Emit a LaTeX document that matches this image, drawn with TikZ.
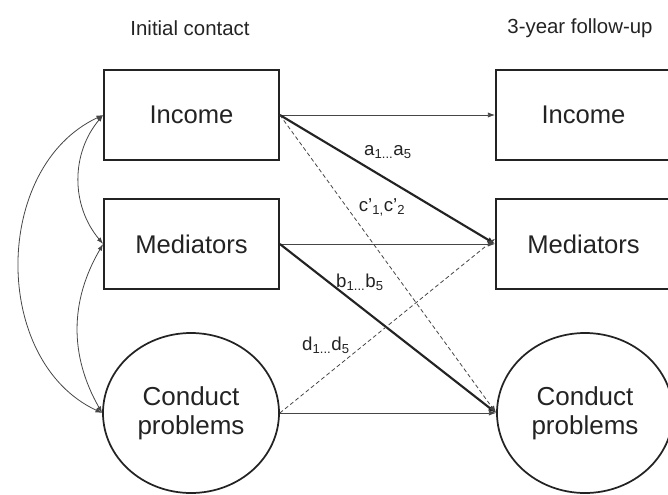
\documentclass[tikz,border=0pt]{standalone}
\usepackage{fontspec}
\setmainfont{Liberation Sans}
\usetikzlibrary{arrows.meta,shapes.geometric}
\definecolor{inkgray}{RGB}{35,35,35}
\definecolor{linegray}{RGB}{70,70,70}

\begin{document}
\begin{tikzpicture}[x=0.75pt,y=0.75pt,yscale=-1,xscale=1,
  varbox/.style={draw=inkgray,line width=1.3pt,minimum width=131.25pt,minimum height=67.5pt,inner sep=0pt,text=inkgray,font=\fontsize{19.2}{21}\selectfont},
  varcirc/.style={ellipse,draw=inkgray,line width=1.3pt,minimum width=132pt,minimum height=120pt,inner sep=0pt,align=center,text=inkgray,font=\fontsize{19.5}{21.5}\selectfont},
  path/.style={draw=linegray,line width=0.7pt,-{Latex[length=5.5pt,width=4pt]}},
  thickpath/.style={draw=inkgray,line width=1.6pt,-{Latex[length=6pt,width=4.5pt]}},
  dashpath/.style={draw=linegray,line width=0.6pt,dash pattern=on 3pt off 2pt,-{Latex[length=5.5pt,width=4pt]}},
  corr/.style={draw=linegray,line width=0.6pt,{Latex[length=5pt,width=3.5pt]}-{Latex[length=5pt,width=3.5pt]}},
  coef/.style={text=inkgray,font=\fontsize{14}{16}\selectfont},
  header/.style={text=inkgray,font=\fontsize{15.3}{17}\selectfont}]
\clip (0,0) rectangle (668,494);

%Headers
\node[header] (hdrInit) at (190,28) {Initial contact};
\node[header] (hdrFollow) at (580,28) {3-year follow-up};

%Initial contact variables
\node[varbox] (incInit) at (191.5,115) {Income};
\node[varbox] (medInit) at (191.5,244) {Mediators};
\node[varcirc] (cpInit) at (191,413) {Conduct\\problems};

%Follow-up variables
\node[varbox] (incFollow) at (583.5,115) {Income};
\node[varbox] (medFollow) at (583.5,244) {Mediators};
\node[varcirc] (cpFollow) at (585,413) {Conduct\\problems};

%Stability paths
\draw[path] (incInit.east) -- (incFollow.west);
\draw[path] (medInit.east) -- (medFollow.west);
\draw[path] (cpInit.east) -- (cpFollow.west);

%Cross-lagged paths
\draw[thickpath] (incInit.east) -- (medFollow.west);
\draw[thickpath] (medInit.east) -- (cpFollow.west);
\draw[dashpath] (incInit.east) -- (cpFollow.west);
\draw[dashpath] (cpInit.east) -- ([yshift=-4pt]medFollow.west);

%Coefficient labels
\node[coef] (lblA) at (388,152) {a\textsubscript{1...}a\textsubscript{5}};
\node[coef] (lblC) at (382,207) {c'\textsubscript{1,}c'\textsubscript{2}};
\node[coef] (lblB) at (360,282) {b\textsubscript{1...}b\textsubscript{5}};
\node[coef] (lblD) at (326,345) {d\textsubscript{1...}d\textsubscript{5}};

%Correlations at initial contact
\draw[corr] (incInit.west) to[bend left=40] (medInit.west);
\draw[corr] (medInit.west) to[bend left=30] (cpInit.west);
\draw[corr] (incInit.west) to[out=155,in=205,looseness=1.05] (cpInit.west);

\end{tikzpicture}
\end{document}
